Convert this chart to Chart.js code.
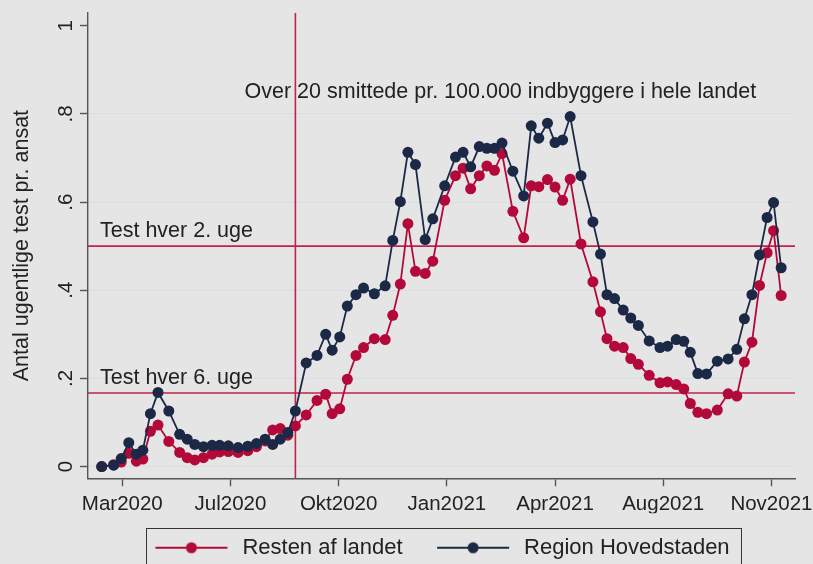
<!DOCTYPE html>
<html>
<head>
<meta charset="utf-8">
<script src="https://cdn.jsdelivr.net/npm/chart.js@4.4.1/dist/chart.umd.min.js"></script>
<style>
    html, body { margin: 0; padding: 0; background: #e5e5e5; }
</style>
</head>
<body>
<canvas id="myLineChart" width="813" height="564"></canvas>
<script>
/**
 * Ugentlige test pr. ansat
 */

// dage efter første måling (marts 2020)
const dage = [0, 11, 18, 25, 32, 38, 45, 52, 62, 72,
    79, 86, 94, 102, 109, 117, 126, 135, 143, 151,
    158, 165, 172, 179, 189, 199, 207, 213, 220, 227,
    235, 242, 252, 262, 269, 276, 283, 290, 299, 306,
    317, 327, 334, 341, 349, 356, 363, 370, 380, 390,
    397, 404, 412, 419, 426, 433, 443, 454, 461, 467,
    474, 482, 489, 496, 506, 516, 523, 531, 538, 544,
    551, 559, 569, 579, 587, 594, 601, 608, 615, 621,
    628];

const restenAfLandet = [0.000, 0.004, 0.010, 0.030, 0.012, 0.017, 0.080, 0.094, 0.057, 0.032,
    0.020, 0.015, 0.020, 0.028, 0.033, 0.034, 0.032, 0.036, 0.045, 0.058,
    0.083, 0.086, 0.071, 0.092, 0.117, 0.150, 0.164, 0.120, 0.131, 0.198,
    0.252, 0.270, 0.290, 0.288, 0.343, 0.414, 0.551, 0.443, 0.438, 0.466,
    0.604, 0.660, 0.677, 0.630, 0.660, 0.682, 0.672, 0.710, 0.579, 0.519,
    0.637, 0.635, 0.651, 0.634, 0.604, 0.652, 0.505, 0.419, 0.351, 0.290,
    0.273, 0.270, 0.245, 0.232, 0.207, 0.190, 0.192, 0.186, 0.176, 0.143,
    0.123, 0.120, 0.128, 0.165, 0.160, 0.237, 0.282, 0.411, 0.485, 0.535,
    0.388];

const regionHovedstaden = [0.000, 0.003, 0.018, 0.054, 0.028, 0.037, 0.120, 0.168, 0.126, 0.073,
    0.062, 0.050, 0.045, 0.048, 0.048, 0.047, 0.043, 0.046, 0.052, 0.062,
    0.050, 0.062, 0.077, 0.126, 0.235, 0.252, 0.300, 0.264, 0.294, 0.364,
    0.390, 0.405, 0.392, 0.410, 0.513, 0.601, 0.713, 0.685, 0.515, 0.562,
    0.637, 0.702, 0.713, 0.680, 0.726, 0.722, 0.722, 0.734, 0.670, 0.614,
    0.773, 0.745, 0.779, 0.735, 0.741, 0.794, 0.660, 0.555, 0.482, 0.390,
    0.381, 0.355, 0.337, 0.320, 0.285, 0.270, 0.273, 0.288, 0.284, 0.259,
    0.211, 0.210, 0.239, 0.244, 0.266, 0.335, 0.390, 0.480, 0.565, 0.599,
    0.451];

const tickDage = [19, 119, 219, 319, 419, 519, 619];
const tickLabels = ['Mar2020', 'Jul2020', 'Okt2020', 'Jan2021', 'Apr2021', 'Aug2021', 'Nov2021'];
const yTicks = [0, 0.2, 0.4, 0.6, 0.8, 1];
const yTickLabels = ['0', '.2', '.4', '.6', '.8', '1'];

// vandrette referencelinjer
const testNiveauer = [0.5, 1 / 6];
const testTekster = ['Test hver 2. uge', 'Test hver 6. uge'];

// lodret linje
const smitteDag = 179;
const smitteTekst = 'Over 20 smittede pr. 100.000 indbyggere i hele landet';

const rod = '#b3093a';
const navy = '#1b2846';
const linjeRod = '#c22249';
const aksefarve = '#555';
const skrift = "'Liberation Sans', Arial, sans-serif";

// legend-symbol: linje med prik, lidt luft til venstre
function lavSwatch(farve) {
    const c = document.createElement('canvas');
    c.width = 87;
    c.height = 16;
    const g = c.getContext('2d');
    g.strokeStyle = farve;
    g.lineWidth = 1.8;
    g.beginPath();
    g.moveTo(11, 8);
    g.lineTo(83, 8);
    g.stroke();
    g.fillStyle = farve;
    g.beginPath();
    g.arc(47, 8, 5.5, 0, Math.PI * 2);
    g.fill();
    return c;
}

const referenceLinjer = {
    id: 'referenceLinjer',
    afterLayout(chart) {
        // flyt legenden lidt til venstre (luften foran første symbol)
        chart.legend.left -= 4.5;
        chart.legend.right -= 4.5;
    },
    beforeDatasetsDraw(chart) {
        const { ctx, chartArea, scales: { x, y } } = chart;
        ctx.save();
        ctx.strokeStyle = linjeRod;
        ctx.lineWidth = 1.6;
        ctx.font = '21.5px ' + skrift;
        testNiveauer.forEach((v, i) => {
            const py = y.getPixelForValue(v);
            ctx.beginPath();
            ctx.moveTo(chartArea.left, py);
            ctx.lineTo(chartArea.right, py);
            ctx.stroke();
            ctx.fillStyle = '#222';
            ctx.textAlign = 'left';
            ctx.textBaseline = 'alphabetic';
            ctx.fillText(testTekster[i], chartArea.left + 12, py - 9);
        });
        const px = x.getPixelForValue(smitteDag);
        ctx.beginPath();
        ctx.moveTo(px, chartArea.top);
        ctx.lineTo(px, chartArea.bottom);
        ctx.stroke();
        ctx.fillStyle = '#222';
        ctx.textAlign = 'left';
        ctx.textBaseline = 'middle';
        ctx.fillText(smitteTekst, x.getPixelForValue(132), y.getPixelForValue(0.85));
        ctx.restore();
    },
    afterDraw(chart) {
        const boxes = chart.legend.legendHitBoxes;
        if (!boxes || !boxes.length) return;
        const first = boxes[0];
        const last = boxes[boxes.length - 1];
        const ctx = chart.ctx;
        ctx.save();
        ctx.strokeStyle = '#333';
        ctx.lineWidth = 1;
        const left = Math.round(first.left + 2) + 0.5;
        const right = Math.round(last.left + last.width + 11) + 0.5;
        const top = Math.round(first.top - 9) + 0.5;
        ctx.strokeRect(left, top, right - left, 80);
        ctx.restore();
    }
};

const ctx = document.getElementById('myLineChart').getContext('2d');
const myLineChart = new Chart(ctx, {
    type: 'line',
    data: {
        datasets: [
            {
                label: 'Resten af landet',
                data: dage.map((d, i) => ({ x: d, y: restenAfLandet[i] })),
                borderColor: rod,
                backgroundColor: rod,
                borderWidth: 1.8,
                pointRadius: 5.5,
                pointBorderWidth: 0,
                pointBackgroundColor: rod,
                tension: 0,
                order: 1
            },
            {
                label: 'Region Hovedstaden',
                data: dage.map((d, i) => ({ x: d, y: regionHovedstaden[i] })),
                borderColor: navy,
                backgroundColor: navy,
                borderWidth: 1.8,
                pointRadius: 5.5,
                pointBorderWidth: 0,
                pointBackgroundColor: navy,
                tension: 0,
                order: 0
            }
        ]
    },
    options: {
        responsive: false,
        animation: false,
        devicePixelRatio: 1,
        layout: {
            padding: { top: 13, right: 18, left: 0, bottom: -4.7 }
        },
        plugins: {
            tooltip: { enabled: false },
            legend: {
                position: 'bottom',
                fullSize: false,
                labels: {
                    usePointStyle: true,
                    pointStyleWidth: 87,
                    padding: 23.5,
                    color: '#222',
                    font: { size: 22, family: skrift },
                    sort: (a, b) => a.datasetIndex - b.datasetIndex,
                    generateLabels: (chart) => {
                        const items = Chart.defaults.plugins.legend.labels.generateLabels(chart);
                        items.forEach(it => {
                            it.pointStyle = lavSwatch(chart.data.datasets[it.datasetIndex].borderColor);
                        });
                        return items;
                    }
                }
            }
        },
        scales: {
            x: {
                type: 'linear',
                min: -12.7,
                max: 640.8,
                afterBuildTicks: s => { s.ticks = tickDage.map(v => ({ value: v })); },
                afterFit: s => { s.height = 35; s.paddingLeft = 0; s.paddingRight = 0; },
                border: { display: true, color: aksefarve, width: 1.4 },
                grid: { drawOnChartArea: false, tickLength: 8, tickColor: aksefarve, tickWidth: 1.4 },
                ticks: {
                    autoSkip: false,
                    maxRotation: 0,
                    padding: 9.8,
                    color: '#222',
                    font: { size: 20.5, family: skrift, lineHeight: 0.8 },
                    callback: (v, i) => tickLabels[i]
                }
            },
            y: {
                type: 'linear',
                min: -0.0265,
                max: 1.029,
                afterBuildTicks: s => { s.ticks = yTicks.map(v => ({ value: v })); },
                afterFit: s => { s.width = 88; s.paddingTop = 0; s.paddingBottom = 0; },
                border: { display: true, color: aksefarve, width: 1.4 },
                grid: {
                    // ingen gitterlinje ved 1
                    color: c => (c.tick && c.tick.value === 1 ? 'rgba(0,0,0,0)' : '#d6dfe3'),
                    lineWidth: 1,
                    tickLength: 8,
                    tickColor: aksefarve,
                    tickWidth: 1.4
                },
                ticks: {
                    minRotation: 90,
                    maxRotation: 90,
                    crossAlign: 'center',
                    padding: 5,
                    color: '#222',
                    font: { size: 20.5, family: skrift },
                    callback: (v, i) => yTickLabels[i]
                },
                title: {
                    display: true,
                    text: 'Antal ugentlige test pr. ansat',
                    color: '#222',
                    font: { size: 21.5, family: skrift },
                    padding: { top: 9, bottom: 0 }
                }
            }
        }
    },
    plugins: [referenceLinjer]
});
</script>
</body>
</html>
